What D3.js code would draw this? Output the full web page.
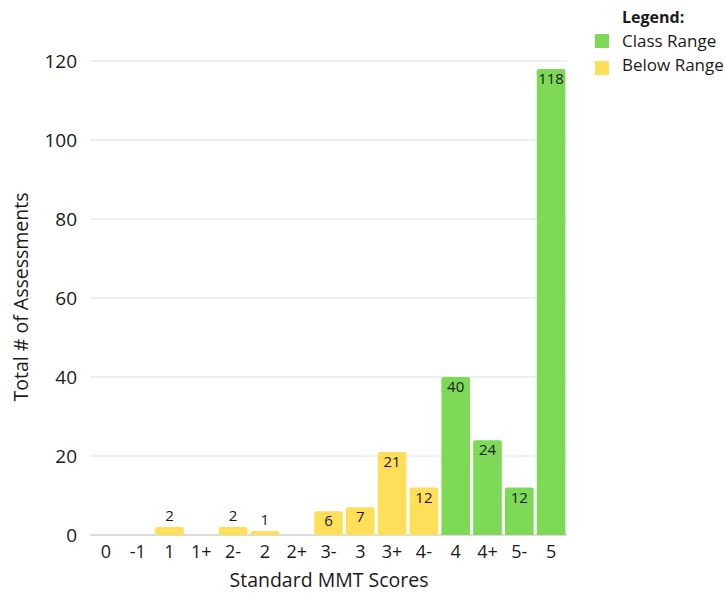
<!DOCTYPE html>
<html>
<head>
<meta charset="utf-8">
<script src="https://cdn.jsdelivr.net/npm/d3@7"></script>
<style>
  body { margin: 0; background: #fff; }
  text { font-family: "Open Sans", "Noto Sans", sans-serif; fill: #1a1a1a; }
</style>
</head>
<body>
<div id="chart"></div>
<script>
const categories = ['0', '-1', '1', '1+', '2-', '2', '2+', '3-', '3', '3+', '4-', '4', '4+', '5-', '5'];
const counts = [0, 0, 2, 0, 2, 1, 0, 6, 7, 21, 12, 40, 24, 12, 118];
const groups = ['below', 'below', 'below', 'below', 'below', 'below', 'below', 'below', 'below', 'below', 'below', 'class', 'class', 'class', 'class'];
const yTicks = [0, 20, 40, 60, 80, 100, 120];
const legendItems = [['class', 'Class Range'], ['below', 'Below Range']];

const colours = { class: '#7ed957', below: '#ffde59' };
const width = 725, height = 593;
const margin = { left: 90, right: 158, top: 61, bottom: 58 };

const svg = d3.select('#chart').append('svg').attr('width', width).attr('height', height);

const x = d3.scaleBand().domain(categories)
  .range([margin.left, width - margin.right]).paddingInner(0.1).paddingOuter(0.05);
const y = d3.scaleLinear().domain([0, 120]).range([height - margin.bottom, margin.top]);

// gridlines
svg.append('g').selectAll('line').data(yTicks).join('line')
  .attr('x1', margin.left).attr('x2', width - margin.right)
  .attr('y1', d => y(d)).attr('y2', d => y(d))
  .attr('stroke', d => d === 0 ? '#bbb' : '#dedede').attr('stroke-width', 1);

// y tick labels
svg.append('g').selectAll('text').data(yTicks).join('text')
  .attr('x', 77).attr('y', d => y(d)).attr('dy', '0.35em')
  .attr('text-anchor', 'end').attr('font-size', 19).text(d => d);

const data = categories.map((c, i) => ({ cat: c, value: counts[i], group: groups[i] }));

// bars with slightly rounded tops
svg.append('g').selectAll('path').data(data.filter(d => d.value > 0)).join('path')
  .attr('fill', d => colours[d.group])
  .attr('d', d => {
    const x0 = x(d.cat), w = x.bandwidth(), yt = y(d.value), yb = y(0), r = Math.min(2, yb - yt);
    return `M${x0},${yb}V${yt + r}Q${x0},${yt} ${x0 + r},${yt}H${x0 + w - r}Q${x0 + w},${yt} ${x0 + w},${yt + r}V${yb}Z`;
  });

// value labels
svg.append('g').selectAll('text').data(data.filter(d => d.value > 0)).join('text')
  .attr('x', d => x(d.cat) + x.bandwidth() / 2)
  .attr('y', d => d.value >= 5 ? y(d.value) + 15 : y(d.value) - 6)
  .attr('text-anchor', 'middle').attr('font-size', 15)
  .text(d => d.value);

// x tick labels
svg.append('g').selectAll('text').data(categories).join('text')
  .attr('x', d => x(d) + x.bandwidth() / 2).attr('y', 558)
  .attr('text-anchor', 'middle').attr('font-size', 18).text(d => d);

// axis titles
svg.append('text').attr('x', 329).attr('y', 587).attr('text-anchor', 'middle')
  .attr('font-size', 19.5).text('Standard MMT Scores');
svg.append('text').attr('transform', 'translate(28,297) rotate(-90)')
  .attr('text-anchor', 'middle').attr('font-size', 19.5).text('Total # of Assessments');

// legend
const legend = svg.append('g');
legend.append('text').attr('x', 622).attr('y', 23).attr('font-size', 16)
  .attr('font-weight', 'bold').text('Legend:');
legend.selectAll('rect').data(legendItems).join('rect')
  .attr('x', 595).attr('y', (d, i) => 34 + i * 27).attr('width', 14).attr('height', 14)
  .attr('fill', d => colours[d[0]]);
legend.selectAll('text.item').data(legendItems).join('text').attr('class', 'item')
  .attr('x', 622).attr('y', (d, i) => 47 + i * 24).attr('font-size', 17).text(d => d[1]);
</script>
</body>
</html>
